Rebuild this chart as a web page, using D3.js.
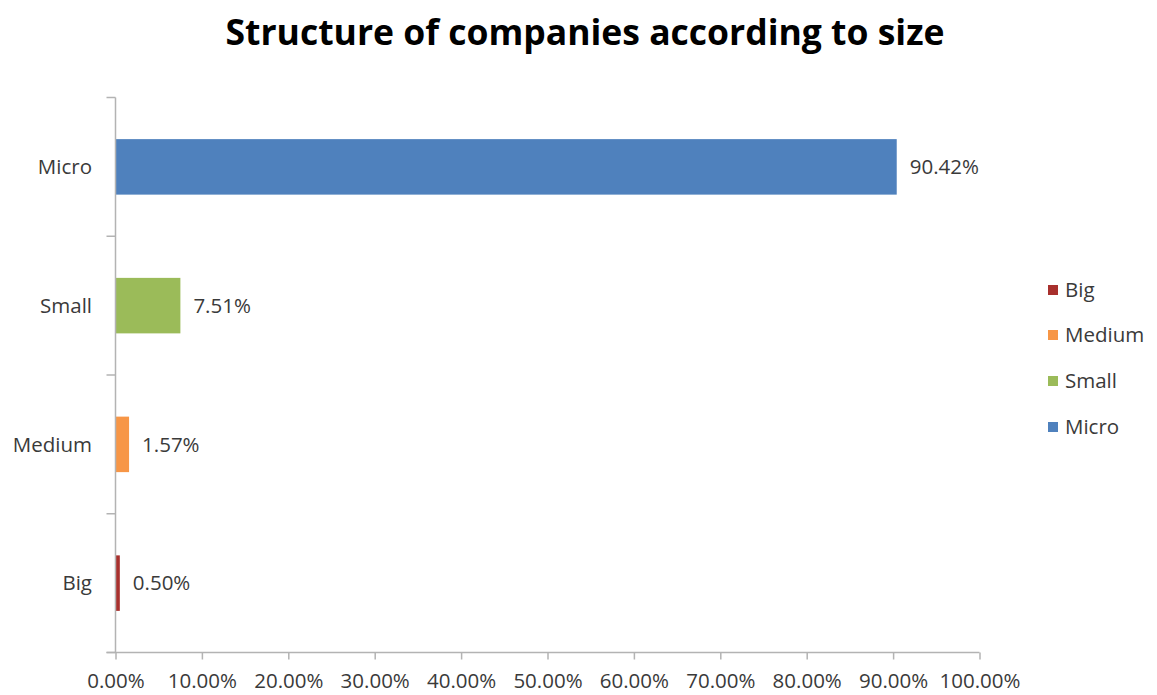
<!DOCTYPE html>
<html>
<head>
<meta charset="utf-8">
<script src="https://cdn.jsdelivr.net/npm/d3@7"></script>
<style>
  body { margin: 0; background: #fff; }
  text { font-family: "Open Sans", "Liberation Sans", sans-serif; }
</style>
</head>
<body>
<svg id="chart" width="1157" height="695"></svg>
<script>
// Share of companies by size class (percent)
const categories = ["Micro", "Small", "Medium", "Big"];
const values = [90.42, 7.51, 1.57, 0.50];
const colors = ["#4F81BD", "#9BBB59", "#F79646", "#A8302D"];
const xTicks = [0, 10, 20, 30, 40, 50, 60, 70, 80, 90, 100];
const legendOrder = ["Big", "Medium", "Small", "Micro"];

const svg = d3.select("#chart");
const plot = { left: 115.5, right: 979.5, top: 97.5, bottom: 652.5 };

const x = d3.scaleLinear().domain([0, 100]).range([plot.left, plot.right]);
const y = d3.scaleBand().domain(categories).range([plot.top, plot.bottom]).paddingInner(0.6).paddingOuter(0.3);
const yOuter = d3.scaleBand().domain(categories).range([plot.top, plot.bottom]);
const color = d3.scaleOrdinal().domain(categories).range(colors);

const labelColor = "#3a3a3a";
const labelSize = "20.5px";

// Title
svg.append("text")
  .attr("x", 585).attr("y", 45)
  .attr("text-anchor", "middle")
  .style("font-size", "35.5px").style("font-weight", "bold")
  .attr("fill", "#000")
  .text("Structure of companies according to size");

// Bars
svg.selectAll("rect.bar").data(categories).enter().append("rect")
  .attr("class", "bar")
  .attr("x", x(0))
  .attr("y", d => y(d))
  .attr("width", (d, i) => x(values[i]) - x(0))
  .attr("height", y.bandwidth())
  .attr("fill", d => color(d));

// Axes
const axisColor = "#b3b3b3";
const yAxisG = svg.append("g").attr("transform", `translate(${plot.left},0)`);
yAxisG.append("line").attr("x1", 0).attr("x2", 0).attr("y1", plot.top).attr("y2", plot.bottom)
  .attr("stroke", axisColor).attr("stroke-width", 1.5);
const yTickPos = [plot.top].concat(categories.map(c => yOuter(c) + yOuter.bandwidth()));
yAxisG.selectAll("line.tick").data(yTickPos).enter().append("line")
  .attr("x1", -9).attr("x2", 0).attr("y1", d => d).attr("y2", d => d)
  .attr("stroke", axisColor).attr("stroke-width", 1.5);

const xAxis = d3.axisBottom(x).tickValues(xTicks).tickSize(7).tickSizeOuter(0)
  .tickFormat(d => d.toFixed(2) + "%");
const xg = svg.append("g").attr("transform", `translate(0,${plot.bottom})`).call(xAxis);
xg.select(".domain").attr("stroke", axisColor).attr("stroke-width", 1.5)
  .attr("d", `M${plot.left - 9},0H${plot.right}`);
xg.selectAll(".tick line").attr("stroke", axisColor).attr("stroke-width", 1.5);
xg.selectAll(".tick text").attr("y", 21).attr("fill", labelColor)
  .style("font-size", labelSize).style("font-family", "'Open Sans', sans-serif");

// Category labels
svg.selectAll("text.cat").data(categories).enter().append("text")
  .attr("class", "cat")
  .attr("x", 92).attr("y", d => yOuter(d) + yOuter.bandwidth() / 2)
  .attr("dy", "0.35em").attr("text-anchor", "end")
  .attr("fill", labelColor).style("font-size", labelSize)
  .text(d => d);

// Value labels
svg.selectAll("text.val").data(categories).enter().append("text")
  .attr("class", "val")
  .attr("x", (d, i) => x(values[i]) + 13)
  .attr("y", d => yOuter(d) + yOuter.bandwidth() / 2)
  .attr("dy", "0.35em")
  .attr("fill", labelColor).style("font-size", labelSize)
  .text((d, i) => values[i].toFixed(2) + "%");

// Legend
const lg = svg.append("g").attr("transform", "translate(1048,0)");
const legendY = [290, 335, 381, 427];
legendOrder.forEach((c, i) => {
  lg.append("rect").attr("x", 0).attr("y", legendY[i] - 5).attr("width", 10).attr("height", 10)
    .attr("fill", color(c));
  lg.append("text").attr("x", 17).attr("y", legendY[i]).attr("dy", "0.35em")
    .attr("fill", labelColor).style("font-size", labelSize).text(c);
});
</script>
</body>
</html>
